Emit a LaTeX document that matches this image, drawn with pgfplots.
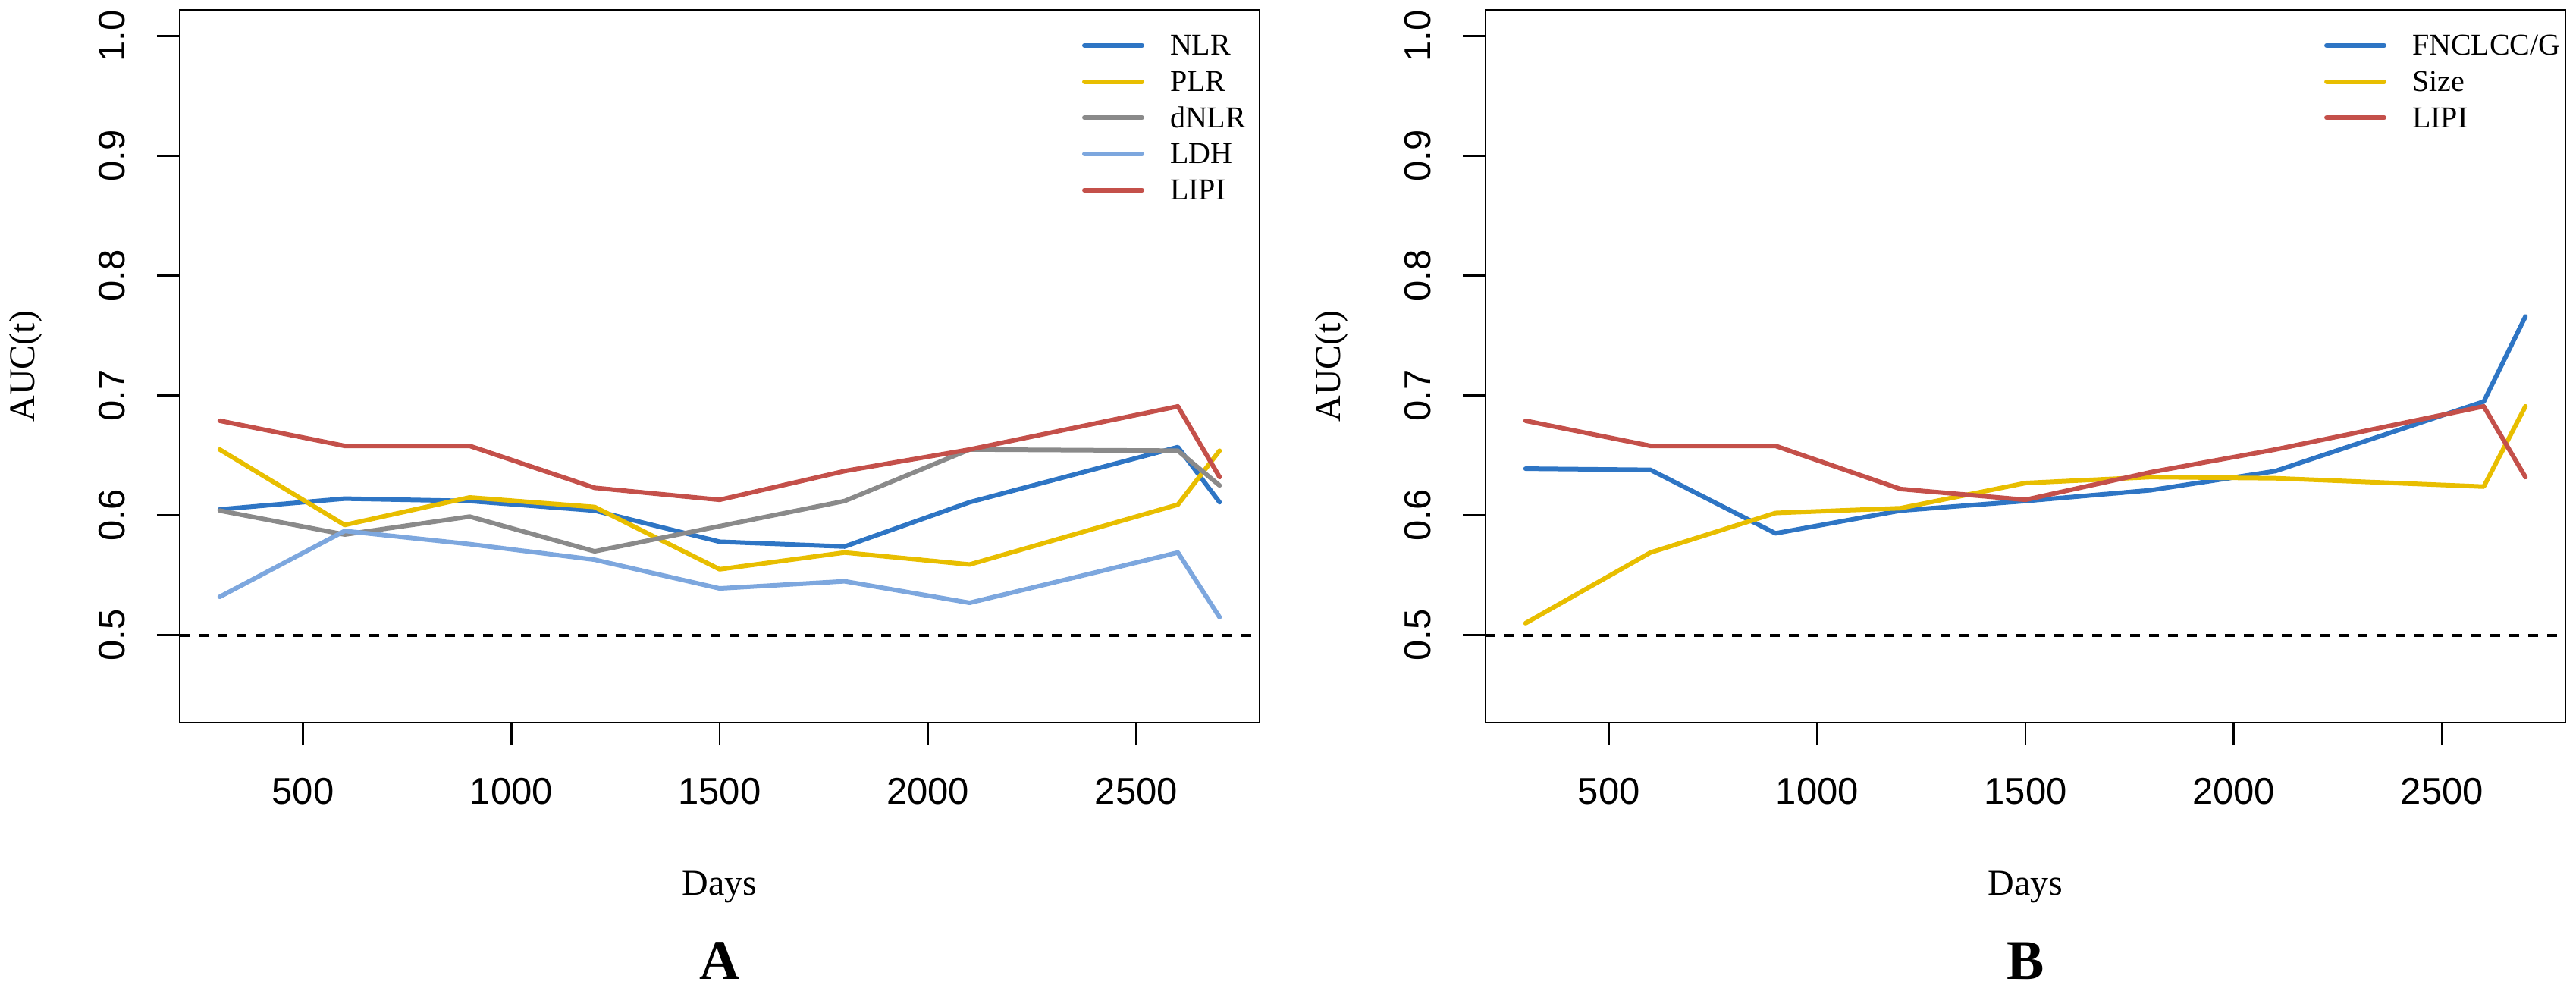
\documentclass[border=0pt]{standalone}
\usepackage{fontspec}
\setmainfont{Liberation Serif}
\newfontfamily\helv{Liberation Sans}
\usepackage{pgfplots}
\usepackage{pgfplotstable}
\pgfplotsset{compat=1.18}

\definecolor{cBlue}{HTML}{2E75C4}
\definecolor{cYellow}{HTML}{E8BE00}
\definecolor{cGray}{HTML}{8A8A8A}
\definecolor{cLBlue}{HTML}{7DA7DE}
\definecolor{cRed}{HTML}{C4504A}

\pgfplotstableread{
days NLR PLR dNLR LDH LIPI
300 0.605 0.655 0.604 0.532 0.679
600 0.614 0.592 0.584 0.587 0.658
900 0.612 0.615 0.599 0.576 0.658
1200 0.604 0.607 0.570 0.563 0.623
1500 0.578 0.555 0.591 0.539 0.613
1800 0.574 0.569 0.612 0.545 0.637
2100 0.611 0.559 0.655 0.527 0.655
2600 0.657 0.609 0.654 0.569 0.691
2700 0.611 0.654 0.625 0.515 0.632
}\tabA

\pgfplotstableread{
days FNCLCC Size LIPI
300 0.639 0.510 0.679
600 0.638 0.569 0.658
900 0.585 0.602 0.658
1200 0.604 0.606 0.622
1500 0.612 0.627 0.613
1800 0.621 0.632 0.636
2100 0.637 0.631 0.655
2600 0.695 0.624 0.691
2700 0.766 0.691 0.632
}\tabB

\pgfplotsset{
  rstyle/.style={
    scale only axis, width=284.8pt, height=188pt,
    xmin=204, xmax=2796, ymin=0.427, ymax=1.022,
    axis line style={line width=0.55pt},
    xtick={500,1000,1500,2000,2500},
    xticklabels={500,1000,1500,2000,2500},
    ytick={0.5,0.6,0.7,0.8,0.9,1.0},
    yticklabels={0.5,0.6,0.7,0.8,0.9,1.0},
    xtick pos=bottom, ytick pos=left,
    tick align=outside, major tick length=6pt,
    tick style={line width=0.55pt, black},
    ticklabel style={font=\helv\fontsize{9.8}{10}\selectfont},
    xticklabel style={anchor=north, inner sep=0pt, yshift=-8.5pt},
    yticklabel style={xshift=-8.3pt, rotate=90, anchor=south, inner sep=0pt},
    ylabel={AUC(t)},
    ylabel style={at={(axis description cs:-0.1426,0.5)}, anchor=center, font=\fontsize{9.6}{10}\selectfont},
    xlabel={Days},
    xlabel style={at={(axis description cs:0.5,-0.2415)}, anchor=base, font=\fontsize{9.6}{10}\selectfont},
    legend cell align=left,
    legend image code/.code={\draw[##1, line cap=round] (0pt,0pt) -- (15.2pt,0pt);},
    legend style={anchor=north west, draw=none, fill=none, inner sep=0pt, outer sep=0pt,
      row sep=0pt, column sep=6.8pt, font=\fontsize{8}{8}\selectfont,
      nodes={inner sep=0pt, text height=7.37pt, text depth=2.17pt}},
    every axis plot/.append style={line width=1.2pt, line cap=round, line join=round, mark=none},
  }
}

\begin{document}
\begin{tikzpicture}
\begin{axis}[rstyle, name=axA, at={(47.4pt,69.8pt)}, anchor=south west,
  legend style={at={(axis description cs:0.8357,0.9755)}}]
  \addplot[cBlue] table[x=days, y=NLR] {\tabA}; \addlegendentry{NLR}
  \addplot[cYellow] table[x=days, y=PLR] {\tabA}; \addlegendentry{PLR}
  \addplot[cGray] table[x=days, y=dNLR] {\tabA}; \addlegendentry{dNLR}
  \addplot[cLBlue] table[x=days, y=LDH] {\tabA}; \addlegendentry{LDH}
  \addplot[cRed] table[x=days, y=LIPI] {\tabA}; \addlegendentry{LIPI}
  \addplot[black, line width=0.8pt, dash pattern=on 2.5pt off 2.5pt, line cap=butt, forget plot] coordinates {(204,0.5) (2796,0.5)};
\end{axis}
\node[anchor=base, yshift=-67.6pt, font=\bfseries\fontsize{14.8}{15}\selectfont] at (axA.south) {A};

\begin{axis}[rstyle, name=axB, at={(391.8pt,69.8pt)}, anchor=south west,
  legend style={at={(axis description cs:0.7767,0.9755)}}]
  \addplot[cBlue] table[x=days, y=FNCLCC] {\tabB}; \addlegendentry{FNCLCC/G}
  \addplot[cYellow] table[x=days, y=Size] {\tabB}; \addlegendentry{Size}
  \addplot[cRed] table[x=days, y=LIPI] {\tabB}; \addlegendentry{LIPI}
  \addplot[black, line width=0.8pt, dash pattern=on 2.5pt off 2.5pt, line cap=butt, forget plot] coordinates {(204,0.5) (2796,0.5)};
\end{axis}
\node[anchor=base, yshift=-67.6pt, font=\bfseries\fontsize{14.8}{15}\selectfont] at (axB.south) {B};

\pgfresetboundingbox
\path[use as bounding box] (0,0) rectangle (679.4pt,260.4pt);
\end{tikzpicture}
\end{document}
